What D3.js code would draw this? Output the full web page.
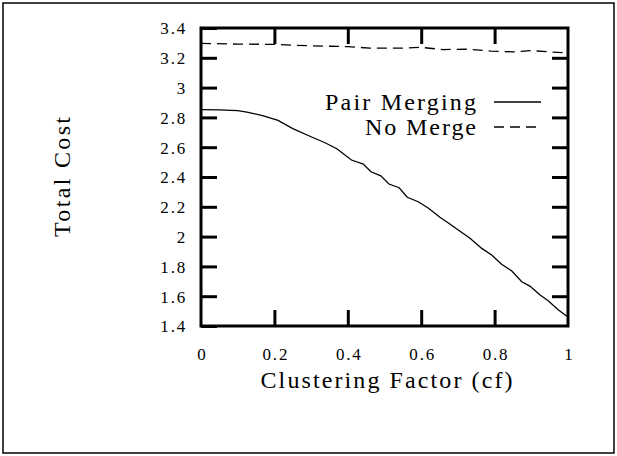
<!DOCTYPE html>
<html><head><meta charset="utf-8">
<script src="https://cdn.jsdelivr.net/npm/d3@7/dist/d3.min.js"></script>
<style>
html,body{margin:0;padding:0;background:#fff;}
svg{display:block;}
</style></head><body>
<svg id="c" width="617" height="456"></svg>
<script>
// ---- data ----
const pairCf = [0,0.05,0.1,0.125,0.17,0.21,0.25,0.3,0.338,0.37,0.41,0.442,0.463,0.49,0.512,0.54,0.562,0.592,0.62,0.651,0.675,0.701,0.733,0.765,0.792,0.819,0.847,0.874,0.896,0.924,0.946,0.974,1.0];
const pairCost = [2.852,2.851,2.845,2.836,2.81,2.78,2.725,2.67,2.63,2.59,2.514,2.487,2.435,2.408,2.353,2.328,2.264,2.234,2.19,2.13,2.09,2.044,1.989,1.921,1.877,1.814,1.769,1.697,1.668,1.608,1.57,1.507,1.46];
const noMergeCf = [0,0.1,0.2,0.3,0.4,0.46,0.55,0.6,0.66,0.72,0.79,0.85,0.9,1.0];
const noMergeCost = [3.297,3.292,3.29,3.28,3.275,3.265,3.265,3.27,3.255,3.258,3.245,3.24,3.248,3.232];
const xTicks = [0,0.2,0.4,0.6,0.8,1];
const xTickLabels = ["0","0.2","0.4","0.6","0.8","1"];
const yTicks = [1.4,1.6,1.8,2,2.2,2.4,2.6,2.8,3,3.2,3.4];
const yTickLabels = ["1.4","1.6","1.8","2","2.2","2.4","2.6","2.8","3","3.2","3.4"];
const seriesNames = ["Pair Merging","No Merge"];
const xTitle = "Clustering Factor (cf)";
const yTitle = "Total Cost";

const FONT = '"Liberation Serif", "Times New Roman", serif';
const svg = d3.select("#c");
// outer border
svg.append("rect").attr("x",3).attr("y",3).attr("width",611).attr("height",450)
  .attr("fill","none").attr("stroke","#000").attr("stroke-width",1.5);

const L=201,R=568,T=28,B=326;
const x = d3.scaleLinear().domain([0,1]).range([L,R]);
const y = d3.scaleLinear().domain([1.4,3.4]).range([B,T]);
const TK=16;

function styleAxis(g){
  g.attr("font-family",FONT).attr("font-size",17);
  g.select(".domain").remove();
  g.selectAll(".tick line").attr("stroke","#000").attr("stroke-width",3);
  g.selectAll(".tick text").attr("font-family",FONT).attr("font-size",17)
   .style("letter-spacing","1.8px").attr("fill","#000");
}
// left
svg.append("g").attr("transform",`translate(${L},0)`)
  .call(d3.axisLeft(y).tickValues(yTicks).tickFormat((d,i)=>yTickLabels[i]).tickSize(-TK).tickPadding(14))
  .call(styleAxis).call(g=>g.selectAll(".tick text").attr("dy","0.35em"));
// right mirror
svg.append("g").attr("transform",`translate(${R},0)`)
  .call(d3.axisRight(y).tickValues(yTicks.slice(1,-1)).tickFormat("").tickSize(-TK)).call(styleAxis);
// bottom
svg.append("g").attr("transform",`translate(0,${B})`)
  .call(d3.axisBottom(x).tickValues(xTicks).tickFormat((d,i)=>xTickLabels[i]).tickSize(-TK))
  .call(styleAxis)
  .call(g=>g.selectAll(".tick text").attr("y",34).attr("dy",0).attr("dx",1))
  .call(g=>g.selectAll(".tick").filter(d=>d===0||d===1).select("line").remove());
// top mirror
svg.append("g").attr("transform",`translate(0,${T})`)
  .call(d3.axisTop(x).tickValues(xTicks.slice(1,-1)).tickFormat("").tickSize(-TK)).call(styleAxis);

// frame
svg.append("rect").attr("x",L).attr("y",T).attr("width",R-L).attr("height",B-T)
  .attr("fill","none").attr("stroke","#000").attr("stroke-width",3);

const line = d3.line().x(d=>x(d[0])).y(d=>y(d[1]));
const pairData = pairCf.map((c,i)=>[c,pairCost[i]]);
const noData = noMergeCf.map((c,i)=>[c,noMergeCost[i]]);
svg.append("path").datum(pairData).attr("d",line).attr("fill","none").attr("stroke","#000").attr("stroke-width",1.3);
svg.append("path").datum(noData).attr("d",line).attr("fill","none").attr("stroke","#000").attr("stroke-width",1.3).attr("stroke-dasharray","10,6");

// legend
const leg = [{name:seriesNames[0],dash:null,by:110,len:151},{name:seriesNames[1],dash:"10,6",by:135,len:111}];
leg.forEach(l=>{
  svg.append("text").attr("x",476).attr("y",l.by).attr("text-anchor","end")
    .attr("font-family",FONT).attr("font-size",24).attr("fill","#000")
    .attr("textLength",l.len).attr("lengthAdjust","spacing").text(l.name);
  svg.append("line").attr("x1",494).attr("x2",541).attr("y1",l.by-8).attr("y2",l.by-8)
    .attr("stroke","#000").attr("stroke-width",1.3).attr("stroke-dasharray",l.dash);
});

// titles
svg.append("text").attr("x",(L+R)/2+2).attr("y",388).attr("text-anchor","middle")
  .attr("font-family",FONT).attr("font-size",24).attr("fill","#000")
  .attr("textLength",252).attr("lengthAdjust","spacing").text(xTitle);
svg.append("text").attr("transform","translate(70,177) rotate(-90)").attr("text-anchor","middle")
  .attr("font-family",FONT).attr("font-size",24).attr("fill","#000")
  .attr("textLength",120).attr("lengthAdjust","spacing").text(yTitle);
</script></body></html>
